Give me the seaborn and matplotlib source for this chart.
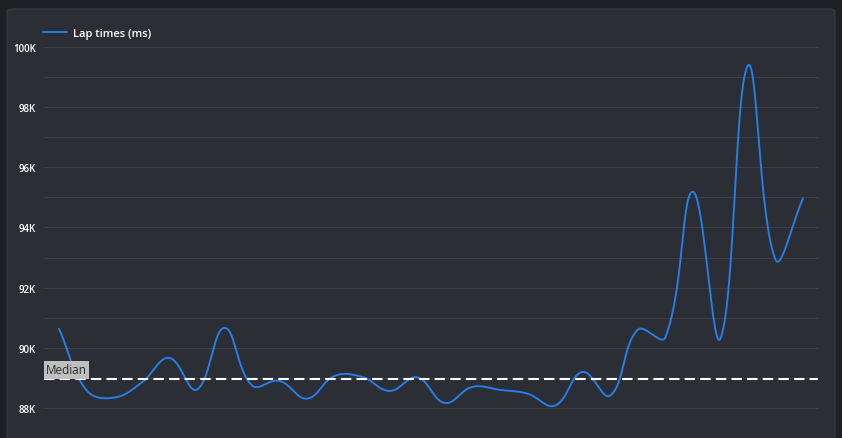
import numpy as np
import pandas as pd
import matplotlib
matplotlib.use("Agg")
import matplotlib.pyplot as plt
from matplotlib.patches import FancyBboxPatch
from matplotlib.ticker import FuncFormatter, MultipleLocator
import seaborn as sb

# lap times (ms)
laps = list(range(1, 29))
lap_times = [90636, 88585, 88342, 88841, 89662, 88608, 90660, 88750,
             88897, 88309, 89063, 89030, 88565, 89017, 88166, 88698,
             88600, 88475, 88076, 89197, 88409, 90600, 90337, 95190,
             90303, 99386, 92936, 94963]
series_name = "Lap times (ms)"

BG = "#1f2024"
PANEL = "#2c2e36"
GRID = "#3b3e47"
LINE = "#2680ea"


def smooth_curve(xs, ys, sx, sy, tension=0.4, steps=30):
    """chart.js style bezier smoothing, control points worked out in pixel space"""
    P = np.column_stack([np.asarray(xs, float) * sx, np.asarray(ys, float) * sy])
    n = len(P)
    cp_prev = P.copy()
    cp_next = P.copy()
    for i in range(n):
        prev = P[max(i - 1, 0)]
        nxt = P[min(i + 1, n - 1)]
        d01 = np.hypot(*(P[i] - prev))
        d12 = np.hypot(*(nxt - P[i]))
        tot = d01 + d12
        if tot == 0:
            continue
        fa = tension * d01 / tot
        fb = tension * d12 / tot
        cp_prev[i] = P[i] - fa * (nxt - prev)
        cp_next[i] = P[i] + fb * (nxt - prev)
    out = []
    t = np.linspace(0, 1, steps)[:, None]
    for i in range(n - 1):
        a, b, c, d = P[i], cp_next[i], cp_prev[i + 1], P[i + 1]
        seg = (1 - t) ** 3 * a + 3 * (1 - t) ** 2 * t * b + 3 * (1 - t) * t ** 2 * c + t ** 3 * d
        out.append(seg if i == 0 else seg[1:])
    out = np.vstack(out)
    return out[:, 0] / sx, out[:, 1] / sy


def main():
    sb.set_theme(style="dark")
    plt.rcParams["font.family"] = ["Open Sans", "DejaVu Sans"]

    fig = plt.figure(figsize=(8.42, 4.39), dpi=100, facecolor=BG)

    # card behind the chart
    card = FancyBboxPatch((7 / 842, -0.05), 828 / 842, 1.05 - 10 / 439,
                          boxstyle="round,pad=0,rounding_size=0.006",
                          transform=fig.transFigure, facecolor=PANEL,
                          edgecolor="#3a3c44", linewidth=0.8, zorder=-5)
    fig.patches.append(card)

    ax = fig.add_axes([44 / 842, 0, 774 / 842, 1 - 48 / 439])
    ax.set_zorder(2)
    ax.set_facecolor(PANEL)

    # 30.08 px per 1000 ms, 27.56 px per lap
    sx, sy = 27.56, 30.08 / 1000
    cx, cy = smooth_curve(laps, lap_times, sx, sy)
    D = pd.DataFrame({"lap": cx, "time": cy})
    sb.lineplot(data=D, x="lap", y="time", ax=ax, color=LINE, linewidth=1.35,
                label=series_name, sort=False, estimator=None)

    median = float(np.median(lap_times))
    ax.axhline(median, color="white", linewidth=1.5, linestyle=(0, (5, 2.5)), zorder=3)
    ax.text(0.003, median + 90, "Median", transform=ax.get_yaxis_transform(),
            ha="left", va="bottom", fontsize=8.5, color="#2a2a2a",
            bbox=dict(boxstyle="square,pad=0.18", facecolor="#bfbfbf", edgecolor="none"))

    ax.set_xlim(laps[0] - 0.544, laps[-1] + 0.544)
    ax.set_ylim(87000, 100000)
    ax.yaxis.set_major_locator(MultipleLocator(2000))
    ax.yaxis.set_minor_locator(MultipleLocator(1000))
    ax.yaxis.set_major_formatter(FuncFormatter(lambda v, p: f"{int(v / 1000)}K"))
    ax.grid(True, which="both", axis="y", color=GRID, linewidth=0.8)
    ax.grid(False, axis="x")
    ax.set_xticks([])
    ax.set_xlabel("")
    ax.set_ylabel("")
    ax.tick_params(axis="y", which="both", length=0, pad=6, labelsize=7, labelcolor="white")
    for lbl in ax.get_yticklabels():
        lbl.set_fontweight("semibold")
    for s in ax.spines.values():
        s.set_visible(False)

    leg = ax.legend(loc="lower left", bbox_to_anchor=(-0.007, 1.01), frameon=False,
                    handlelength=2.2, handletextpad=0.5, fontsize=8, borderaxespad=0)
    for t in leg.get_texts():
        t.set_color("white")
        t.set_fontweight("semibold")

    fig.savefig("out.png", dpi=100, facecolor=BG)
    plt.close(fig)


if __name__ == "__main__":
    main()
